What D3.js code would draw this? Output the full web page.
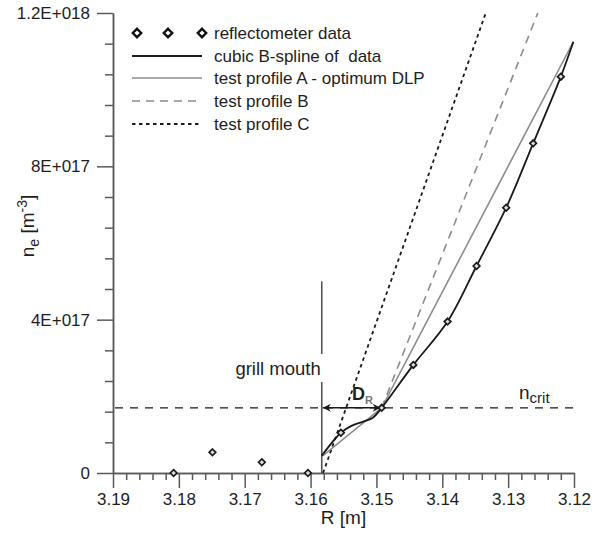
<!DOCTYPE html>
<html>
<head>
<meta charset="utf-8">
<script src="https://cdn.jsdelivr.net/npm/d3@7"></script>
<style>
  body { margin: 0; background: #fff; }
  svg { display: block; }
  text { font-family: Arial, "Liberation Sans", Helvetica, sans-serif; fill: #1e1e1e; }
  .legend text { white-space: pre; }
</style>
</head>
<body>
<svg id="chart" width="603" height="539"></svg>
<script>
// ---- axis ticks ----
const xTicks = [3.19, 3.18, 3.17, 3.16, 3.15, 3.14, 3.13, 3.12];
const xTickLabels = ["3.19", "3.18", "3.17", "3.16", "3.15", "3.14", "3.13", "3.12"];
const yTicks = [0, 4e17, 8e17, 1.2e18];
const yTickLabels = ["0", "4E+017", "8E+017", "1.2E+018"];

// ---- reflectometer data (R [m], n_e [m^-3]) ----
const reflR = [3.1808, 3.1749, 3.1674, 3.1604, 3.1554, 3.1492, 3.1444, 3.1392, 3.1348, 3.1303, 3.1262, 3.1220];
const reflN = [0, 5.4e16, 2.8e16, 0, 1.05e17, 1.7e17, 2.82e17, 3.95e17, 5.4e17, 6.92e17, 8.6e17, 1.034e18];

// ---- cubic B-spline of the data ----
const splineR = [3.1583, 3.1554, 3.1538, 3.1520, 3.1505, 3.1492, 3.1444, 3.1392, 3.1348, 3.1303, 3.1262, 3.1220, 3.1201];
const splineN = [4.5e16, 1.05e17, 1.23e17, 1.34e17, 1.45e17, 1.7e17, 2.82e17, 3.95e17, 5.4e17, 6.92e17, 8.6e17, 1.034e18, 1.125e18];

// ---- test profiles ----
const profileAR = [3.1583, 3.1492, 3.1201];
const profileAN = [4.25e16, 1.7e17, 1.125e18];
const profileBR = [3.1492, 3.1255];
const profileBN = [1.7e17, 1.2e18];
const profileCR = [3.1581, 3.1334];
const profileCN = [0, 1.2e18];

// ---- annotations ----
const grillR = 3.1583;
const grillTopN = 5e17;
const nCrit = 1.7e17;
const cutoffR = 3.1492;

const legendItems = [
  { label: "reflectometer data", kind: "markers" },
  { label: "cubic B-spline of  data", kind: "spline" },
  { label: "test profile A - optimum DLP", kind: "A" },
  { label: "test profile B", kind: "B" },
  { label: "test profile C", kind: "C" }
];

const styles = {
  spline: { stroke: "#1a1a1a", width: 1.8, dash: null },
  A: { stroke: "#8c8c8c", width: 1.6, dash: null },
  B: { stroke: "#8c8c8c", width: 1.6, dash: "8,6" },
  C: { stroke: "#1a1a1a", width: 1.8, dash: "3.5,3.5" }
};

const svg = d3.select("#chart");
const x = d3.scaleLinear().domain([3.19, 3.12]).range([113, 574]);
const y = d3.scaleLinear().domain([0, 1.2e18]).range([473, 13]);

const axisColor = "#5a5a5a";

// minor ticks
const xMinor = d3.range(0, 36).map(i => +(3.19 - i * 0.002).toFixed(4)).filter(v => !xTicks.some(t => Math.abs(t - v) < 1e-6));
const yMinor = d3.range(0, 16).map(i => i * 8e16).filter(v => !yTicks.some(t => Math.abs(t - v) < 1e10));

const gxMinor = svg.append("g").attr("transform", `translate(0,${y(0)})`)
  .call(d3.axisBottom(x).tickValues(xMinor).tickSize(7).tickSizeOuter(0).tickFormat(""));
const gyMinor = svg.append("g").attr("transform", `translate(${x(3.19)},0)`)
  .call(d3.axisLeft(y).tickValues(yMinor).tickSize(8).tickSizeOuter(0).tickFormat(""));

const gx = svg.append("g").attr("transform", `translate(0,${y(0)})`)
  .call(d3.axisBottom(x).tickValues(xTicks).tickSize(15).tickSizeOuter(0).tickPadding(5)
    .tickFormat((d, i) => xTickLabels[i]));
const gy = svg.append("g").attr("transform", `translate(${x(3.19)},0)`)
  .call(d3.axisLeft(y).tickValues(yTicks).tickSize(16).tickSizeOuter(0).tickPadding(7)
    .tickFormat((d, i) => yTickLabels[i]));

[gxMinor, gyMinor, gx, gy].forEach(g => {
  g.selectAll("path.domain").attr("stroke", axisColor).attr("stroke-width", 1.5);
  g.selectAll(".tick line").attr("stroke", axisColor).attr("stroke-width", 1.5);
  g.selectAll(".tick text").attr("font-size", 17).attr("fill", "#1e1e1e")
    .style("font-family", "Arial, 'Liberation Sans', sans-serif");
});

// axis titles
svg.append("text").attr("x", x(3.155)).attr("y", 524).attr("text-anchor", "middle")
  .attr("font-size", 19).text("R [m]");
const yt = svg.append("text").attr("transform", `translate(34,${226}) rotate(-90)`)
  .attr("text-anchor", "middle").attr("font-size", 19);
yt.append("tspan").text("n");
yt.append("tspan").attr("font-size", 14).attr("dy", 5).text("e");
yt.append("tspan").attr("dy", -5).text(" [m");
yt.append("tspan").attr("font-size", 14).attr("dy", -7).text("-3");
yt.append("tspan").attr("dy", 7).text("]");

// n_crit dashed level
svg.append("line")
  .attr("x1", x(3.19) + 2).attr("x2", x(3.12))
  .attr("y1", y(nCrit)).attr("y2", y(nCrit))
  .attr("stroke", "#1a1a1a").attr("stroke-width", 1.4).attr("stroke-dasharray", "8,7");

// grill mouth line
svg.append("line")
  .attr("x1", x(grillR)).attr("x2", x(grillR))
  .attr("y1", y(0)).attr("y2", y(grillTopN))
  .attr("stroke", "#555").attr("stroke-width", 1.6);

// grill mouth label on a white plate
svg.append("rect").attr("x", x(grillR) - 95).attr("y", 354).attr("width", 97).attr("height", 28).attr("fill", "#fff");
svg.append("text").attr("x", x(grillR) - 1).attr("y", 375).attr("text-anchor", "end")
  .attr("font-size", 18.5).text("grill mouth");

const zip = (a, b) => a.map((v, i) => [v, b[i]]);

// test profiles and spline
const drawProfile = (R, N, st, curve) => {
  const gen = d3.line().x(d => x(d[0])).y(d => y(d[1])).curve(curve || d3.curveLinear);
  svg.append("path").datum(zip(R, N))
    .attr("d", gen)
    .attr("fill", "none").attr("stroke", st.stroke).attr("stroke-width", st.width)
    .attr("stroke-dasharray", st.dash);
};
drawProfile(profileCR, profileCN, styles.C);
drawProfile(profileBR, profileBN, styles.B);
drawProfile(profileAR, profileAN, styles.A);
drawProfile(splineR, splineN, styles.spline, d3.curveCatmullRom.alpha(0.5));

// D_R arrow
const defs = svg.append("defs");
defs.append("marker").attr("id", "ah").attr("viewBox", "0 0 10 10").attr("refX", 10).attr("refY", 5)
  .attr("markerWidth", 9).attr("markerHeight", 8).attr("markerUnits", "userSpaceOnUse")
  .attr("orient", "auto-start-reverse")
  .append("path").attr("d", "M0,0 L10,5 L0,10 L3,5 Z").attr("fill", "#1a1a1a");
svg.append("line")
  .attr("x1", x(grillR) + 1).attr("x2", x(cutoffR) - 1)
  .attr("y1", y(nCrit)).attr("y2", y(nCrit))
  .attr("stroke", "#1a1a1a").attr("stroke-width", 1.5)
  .attr("marker-start", "url(#ah)").attr("marker-end", "url(#ah)");
const dr = svg.append("text").attr("x", 352).attr("y", 400).attr("font-size", 18).attr("font-weight", "bold");
dr.append("tspan").text("D");
dr.append("tspan").attr("font-size", 11).attr("dy", 4).attr("fill", "#777").text("R");

// n_crit label
const nc = svg.append("text").attr("x", 519).attr("y", 399).attr("font-size", 19);
nc.append("tspan").text("n");
nc.append("tspan").attr("font-size", 15).attr("dy", 4).text("crit");

// diamonds
const diamond = (cx, cy, r) => `M${cx},${cy - r} L${cx + r},${cy} L${cx},${cy + r} L${cx - r},${cy} Z`;
svg.append("g").selectAll("path").data(zip(reflR, reflN)).join("path")
  .attr("d", d => diamond(x(d[0]), y(d[1]), 3.3))
  .attr("fill", "#ddd").attr("stroke", "#1a1a1a").attr("stroke-width", 1.7);

// legend
const lg = svg.append("g").attr("class", "legend");
const rowY = [33, 56, 78, 101, 124];
legendItems.forEach((it, i) => {
  const yy = rowY[i];
  if (it.kind === "markers") {
    [137, 168, 202].forEach(cx => {
      lg.append("path").attr("d", diamond(cx, yy, 4.2))
        .attr("fill", "#fff").attr("stroke", "#111").attr("stroke-width", 2.4);
    });
  } else {
    const st = styles[it.kind];
    lg.append("line").attr("x1", 132).attr("x2", 202).attr("y1", yy).attr("y2", yy)
      .attr("stroke", st.stroke).attr("stroke-width", st.width).attr("stroke-dasharray", st.dash);
  }
  lg.append("text").attr("x", 214).attr("y", yy + 6).attr("font-size", 17).text(it.label);
});
</script>
</body>
</html>
